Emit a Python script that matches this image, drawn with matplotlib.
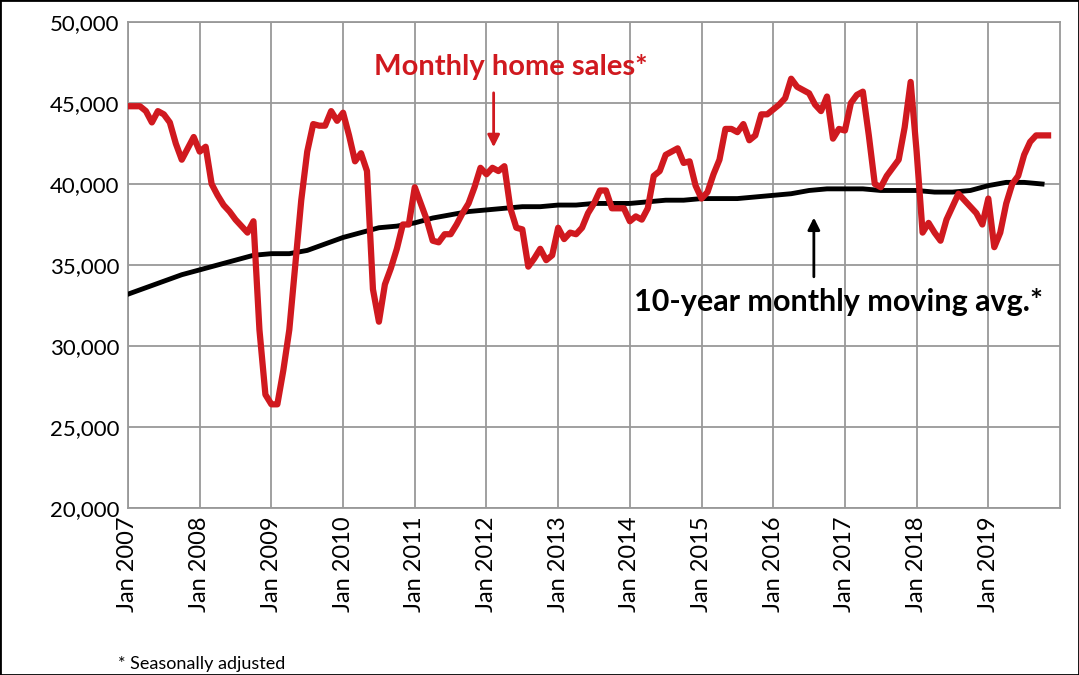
import matplotlib
matplotlib.use("Agg")
import matplotlib.pyplot as plt
import numpy as np

# monthly home sales, Jan 2007 - Nov 2019 (thousands)
sales = [
    44.8, 44.8, 44.8, 44.5, 43.8, 44.5, 44.3, 43.8, 42.5, 41.5, 42.2, 42.9,  # 2007
    42.0, 42.3, 40.0, 39.3, 38.7, 38.3, 37.8, 37.4, 37.0, 37.7, 31.0, 27.0,  # 2008
    26.4, 26.4, 28.5, 31.0, 35.0, 39.0, 42.0, 43.7, 43.6, 43.6, 44.5, 43.9,  # 2009
    44.4, 43.0, 41.4, 41.9, 40.8, 33.5, 31.5, 33.8, 34.8, 36.0, 37.5, 37.5,  # 2010
    39.8, 38.8, 37.8, 36.5, 36.4, 36.9, 36.9, 37.5, 38.2, 38.8, 39.8, 41.0,  # 2011
    40.6, 41.0, 40.8, 41.1, 38.5, 37.3, 37.2, 34.9, 35.4, 36.0, 35.3, 35.6,  # 2012
    37.3, 36.6, 37.0, 36.9, 37.3, 38.2, 38.8, 39.6, 39.6, 38.5, 38.5, 38.5,  # 2013
    37.7, 38.0, 37.8, 38.5, 40.5, 40.8, 41.8, 42.0, 42.2, 41.3, 41.4, 39.9,  # 2014
    39.1, 39.5, 40.6, 41.5, 43.4, 43.4, 43.2, 43.7, 42.7, 43.0, 44.3, 44.3,  # 2015
    44.6, 44.9, 45.3, 46.5, 46.0, 45.8, 45.6, 44.9, 44.5, 45.4, 42.8, 43.4,  # 2016
    43.3, 45.0, 45.5, 45.7, 43.0, 40.0, 39.8, 40.5, 41.0, 41.5, 43.5, 46.3,  # 2017
    42.0, 37.0, 37.6, 37.0, 36.5, 37.8, 38.6, 39.4, 39.0, 38.6, 38.2, 37.5,  # 2018
    39.1, 36.1, 37.0, 38.8, 40.0, 40.5, 41.8, 42.6, 43.0, 43.0, 43.0,        # 2019
]

# 10-year moving average, read quarterly (Jan/Apr/Jul/Oct)
avg = [
    33.2, 33.6, 34.0, 34.4,
    34.7, 35.0, 35.3, 35.6,
    35.7, 35.7, 35.9, 36.3,
    36.7, 37.0, 37.3, 37.4,
    37.6, 37.9, 38.1, 38.3,
    38.4, 38.5, 38.6, 38.6,
    38.7, 38.7, 38.8, 38.8,
    38.8, 38.9, 39.0, 39.0,
    39.1, 39.1, 39.1, 39.2,
    39.3, 39.4, 39.6, 39.7,
    39.7, 39.7, 39.6, 39.6,
    39.6, 39.5, 39.5, 39.6,
    39.9, 40.1, 40.1, 40.0,
]

years = list(range(2007, 2020))
tick_labels = [f"Jan {y}" for y in years]

sales_x = np.arange(len(sales))
avg_x = np.arange(len(avg)) * 3
sales_v = np.array(sales) * 1000
avg_v = np.array(avg) * 1000

plt.rcParams["font.family"] = "Lato"

fig = plt.figure(figsize=(10.79, 6.75), dpi=100)
ax = fig.add_axes([128 / 1079, 1 - 508 / 675, 932 / 1079, 486 / 675])

ax.plot(avg_x, avg_v, color="black", lw=3.5, zorder=3)
ax.plot(sales_x, sales_v, color="#d0191f", lw=4.5, zorder=4)

ax.set_xlim(0, 156)
ax.set_ylim(20000, 50000)
ax.set_xticks(np.arange(len(years)) * 12)
ax.set_xticklabels(tick_labels, rotation=90, fontsize=17)
ax.set_yticks(np.arange(20000, 50001, 5000))
ax.set_yticklabels([f"{v:,}" for v in range(20000, 50001, 5000)], fontsize=16)
ax.grid(True, color="#999999", lw=1.3)
ax.tick_params(length=0, pad=6)
for s in ax.spines.values():
    s.set_color("#999999")
    s.set_linewidth(1.3)

ax.annotate("", xy=(61.2, 42100), xytext=(61.2, 45800),
            arrowprops=dict(arrowstyle="-|>", color="#d0191f", lw=2, mutation_scale=18))
ax.text(64, 47200, "Monthly home sales*", color="#d0191f", fontsize=21,
        fontweight="bold", ha="center", va="center")
ax.annotate("", xy=(114.8, 38100), xytext=(114.8, 34100),
            arrowprops=dict(arrowstyle="-|>", color="black", lw=2, mutation_scale=18))
ax.text(119, 32700, "10-year monthly moving avg.*", color="black", fontsize=22,
        fontweight="bold", ha="center", va="center")

fig.text(118 / 1079, 1 - 664 / 675, "* Seasonally adjusted", fontsize=13, va="center")
fig.patches.append(plt.Rectangle((0, 0), 1, 1, transform=fig.transFigure,
                                 fill=False, ec="black", lw=2))

fig.savefig("out.png", dpi=100)
